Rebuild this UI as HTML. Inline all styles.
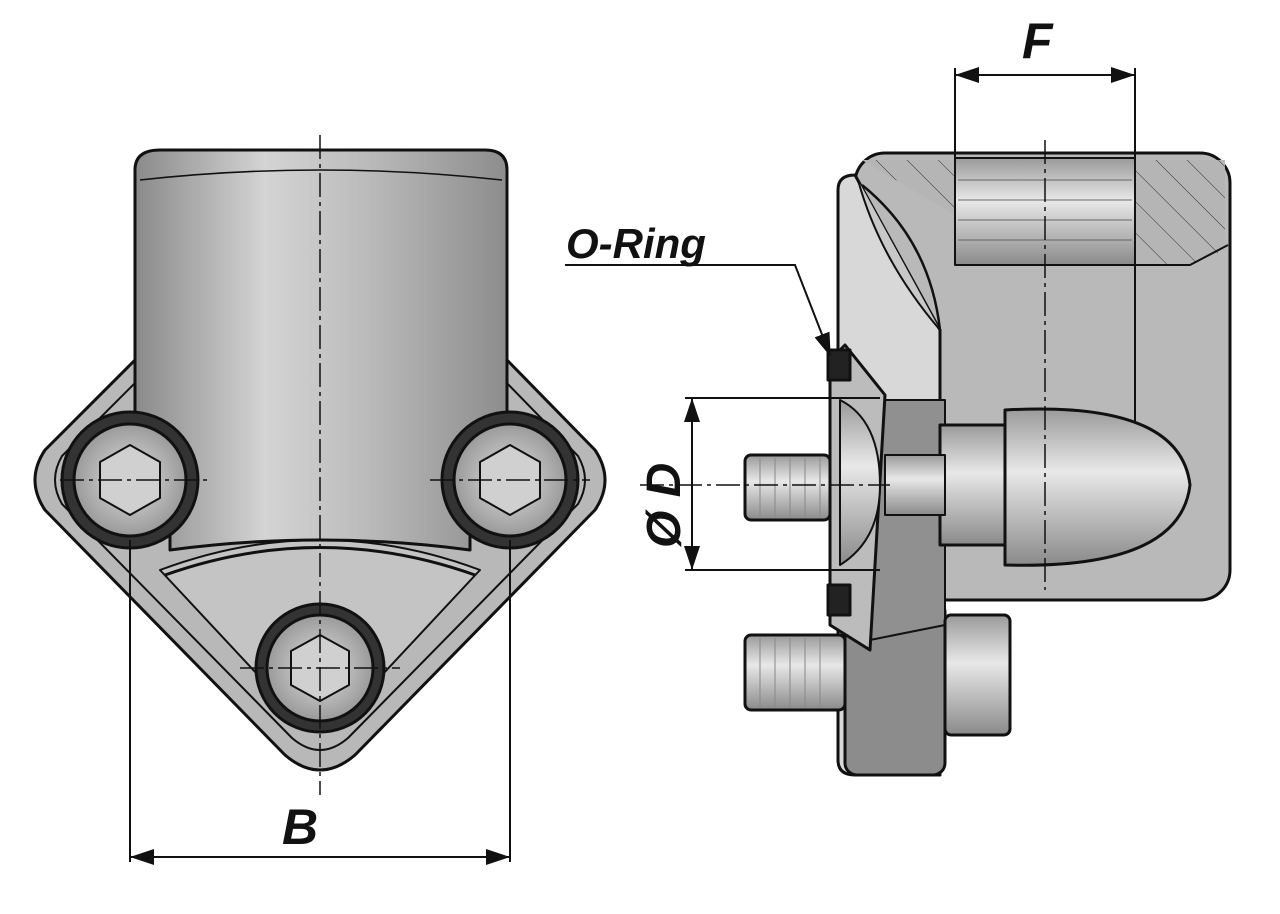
<!DOCTYPE html>
<html><head><meta charset="utf-8"><style>
html,body{margin:0;padding:0;background:#fff;width:1280px;height:914px;overflow:hidden}
svg{display:block}
text{font-family:"Liberation Sans",sans-serif;font-weight:bold;font-style:italic;fill:#111}
</style></head><body>
<svg width="1280" height="914" viewBox="0 0 1280 914" xmlns="http://www.w3.org/2000/svg">
<defs>
<linearGradient id="cyl" x1="0" x2="1" y1="0" y2="0">
<stop offset="0" stop-color="#8a8a8a"/><stop offset="0.35" stop-color="#d4d4d4"/><stop offset="0.6" stop-color="#bdbdbd"/><stop offset="1" stop-color="#8d8d8d"/></linearGradient>
<linearGradient id="vert" x1="0" x2="0" y1="0" y2="1">
<stop offset="0" stop-color="#9a9a9a"/><stop offset="0.4" stop-color="#e8e8e8"/><stop offset="1" stop-color="#8a8a8a"/></linearGradient>
<radialGradient id="bolt" cx="0.5" cy="0.5" r="0.5"><stop offset="0" stop-color="#e0e0e0"/><stop offset="1" stop-color="#9a9a9a"/></radialGradient>
<pattern id="hatch" width="22" height="22" patternUnits="userSpaceOnUse" patternTransform="rotate(-45)"><rect width="22" height="22" fill="#b5b5b5"/><line x1="0" y1="0" x2="0" y2="22" stroke="#333" stroke-width="1"/></pattern>
<marker id="ar" markerWidth="12" markerHeight="8" refX="11" refY="4" orient="auto"><path d="M0,0 L12,4 L0,8 z" fill="#111"/></marker>
</defs>
<g stroke="#111" stroke-width="3" stroke-linejoin="round">
<path d="M135,360 L45,450 Q25,480 45,510 L285,755 Q320,785 355,755 L595,510 Q615,480 595,450 L507,360 Z" fill="#b8b8b8"/>
<path d="M140,378 L62,456 Q48,480 62,504 L292,738 Q320,762 348,738 L578,504 Q592,480 578,456 L502,378" fill="none" stroke-width="2"/>
<path d="M160,570 Q320,510 480,570 L340,720 Q320,740 300,720 Z" fill="#c4c4c4" stroke-width="2"/>
<path d="M135,170 Q135,150 160,150 L485,150 Q507,150 507,170 L507,420 Q470,430 470,470 L470,550 Q320,530 170,550 L170,470 Q170,425 135,420 Z" fill="url(#cyl)"/>
<path d="M140,180 Q320,160 502,180" fill="none" stroke-width="1.5"/>
<path d="M165,575 Q320,520 475,575" fill="none" stroke-width="3"/>
<circle cx="130" cy="480" r="68" fill="#333"/><circle cx="130" cy="480" r="56" fill="url(#bolt)"/>
<polygon points="130,445 160,462 160,498 130,515 100,498 100,462" fill="#d0d0d0" stroke-width="2"/>
<circle cx="510" cy="480" r="68" fill="#333"/><circle cx="510" cy="480" r="56" fill="url(#bolt)"/>
<polygon points="510,445 540,462 540,498 510,515 480,498 480,462" fill="#d0d0d0" stroke-width="2"/>
<circle cx="320" cy="668" r="64" fill="#333"/><circle cx="320" cy="668" r="53" fill="url(#bolt)"/>
<polygon points="320,635 349,651 349,685 320,701 291,685 291,651" fill="#d0d0d0" stroke-width="2"/>
</g>
<g stroke="#111" stroke-width="2" fill="none">
<line x1="130" y1="540" x2="130" y2="862"/><line x1="510" y1="540" x2="510" y2="862"/>
<path d="M130,857 L508,857" marker-end="url(#ar)"/>
<path d="M510,857 L132,857" marker-end="url(#ar)"/>
</g>
<text x="282" y="844" font-size="50">B</text>
<g stroke="#111" stroke-width="3" stroke-linejoin="round">
<rect x="855" y="153" width="375" height="447" rx="30" fill="#b9b9b9"/>
<path d="M862,160 L955,160 L955,265 L1020,265 L955,215 Z" fill="url(#hatch)" stroke="none"/>
<path d="M1135,160 L1225,160 L1225,250 L1190,265 L1135,265 Z" fill="url(#hatch)" stroke-width="0"/>
<rect x="955" y="158" width="180" height="107" fill="url(#vert)" stroke-width="2"/>
<g stroke-width="1" stroke="#666"><line x1="958" y1="180" x2="1132" y2="180"/><line x1="958" y1="200" x2="1132" y2="200"/><line x1="958" y1="220" x2="1132" y2="220"/><line x1="958" y1="240" x2="1132" y2="240"/></g>
<path d="M1020,265 L1190,265 L1228,245" fill="none" stroke-width="2"/>
<path d="M862,185 Q930,240 940,330 L940,600" fill="none" stroke-width="2.5"/>
<line x1="1135" y1="265" x2="1135" y2="440" stroke-width="2"/>
<path d="M838,190 Q838,175 855,175 L855,175 L940,330 L940,775 L855,775 Q838,775 838,760 Z" fill="#d8d8d8"/>
<path d="M858,180 Q880,260 940,330" fill="#c8c8c8" stroke-width="2"/>
<rect x="845" y="600" width="100" height="175" rx="12" fill="#8c8c8c"/>
<path d="M870,400 L945,400 L945,625 L870,640 Z" fill="#909090" stroke-width="2"/>
<path d="M830,360 L845,345 L885,395 L870,650 L830,625 Z" fill="#bcbcbc"/>
<rect x="828" y="350" width="22" height="30" fill="#222"/>
<rect x="828" y="585" width="22" height="30" fill="#222"/>
<path d="M840,400 Q880,420 880,485 Q880,540 840,565 Z" fill="url(#vert)" stroke-width="2"/>
<path d="M1005,410 Q1180,400 1190,485 Q1180,570 1005,565 Z" fill="url(#vert)"/>
<rect x="940" y="425" width="65" height="120" fill="url(#vert)"/>
<rect x="885" y="455" width="60" height="60" fill="url(#vert)" stroke-width="2"/>
<rect x="745" y="455" width="85" height="65" rx="6" fill="url(#vert)"/>
<rect x="745" y="635" width="100" height="75" rx="6" fill="url(#vert)"/>
<g stroke-width="1" stroke="#888"><line x1="760" y1="458" x2="760" y2="517"/><line x1="775" y1="458" x2="775" y2="517"/><line x1="790" y1="458" x2="790" y2="517"/><line x1="805" y1="458" x2="805" y2="517"/><line x1="820" y1="458" x2="820" y2="517"/>
<line x1="760" y1="638" x2="760" y2="707"/><line x1="775" y1="638" x2="775" y2="707"/><line x1="790" y1="638" x2="790" y2="707"/><line x1="805" y1="638" x2="805" y2="707"/><line x1="820" y1="638" x2="820" y2="707"/></g>
<rect x="945" y="615" width="65" height="120" rx="6" fill="url(#vert)"/>
</g>
<g stroke="#111" stroke-width="1.5" stroke-dasharray="24,5,4,5" fill="none">
<line x1="320" y1="135" x2="320" y2="795"/>
<line x1="60" y1="480" x2="210" y2="480"/><line x1="430" y1="480" x2="590" y2="480"/>
<line x1="240" y1="668" x2="400" y2="668"/>
<line x1="1045" y1="140" x2="1045" y2="590"/>
<line x1="640" y1="485" x2="890" y2="485"/>
</g>
<g stroke="#111" stroke-width="2" fill="none">
<line x1="955" y1="68" x2="955" y2="160"/><line x1="1135" y1="68" x2="1135" y2="160"/>
<path d="M1135,75 L957,75" marker-end="url(#ar)"/><path d="M955,75 L1133,75" marker-end="url(#ar)"/>
<line x1="685" y1="398" x2="880" y2="398"/><line x1="685" y1="570" x2="880" y2="570"/>
<path d="M692,570 L692,400" marker-end="url(#ar)"/><path d="M692,398 L692,568" marker-end="url(#ar)"/>
<polyline points="565,265 795,265 830,355" marker-end="url(#ar)"/>
</g>
<text x="1022" y="58" font-size="50">F</text>
<text x="566" y="258" font-size="42">O-Ring</text>
<text transform="translate(680,548) rotate(-90)" font-size="48">Ø D</text>
</svg>
</body></html>
